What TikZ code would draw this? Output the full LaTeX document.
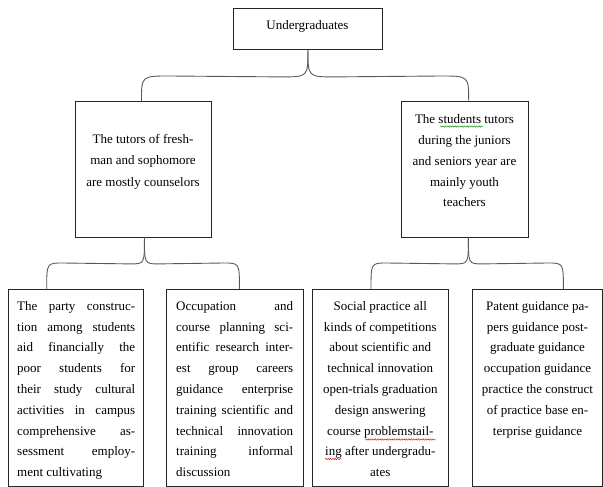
\documentclass[tikz,border=0pt]{standalone}
\usepackage{fontspec}
\setmainfont{Liberation Serif}
\usetikzlibrary{calc,decorations.pathmorphing}
\newcommand{\JLine}[1]{\makebox[\linewidth][s]{\strut #1}\par}
\newcommand{\LLine}[1]{\makebox[\linewidth][l]{\strut #1}\par}
\newcommand{\CLine}[1]{\makebox[\linewidth][c]{\strut #1}\par}
\begin{document}
\begin{tikzpicture}[x=1pt,y=-1pt,
  box/.style={draw=black!85, line width=0.9pt, inner sep=0pt, anchor=north west},
  brace/.style={draw=black!65, line width=0.9pt},
  txt/.style={inner sep=0pt, anchor=north, font=\fontsize{13}{20.8}\selectfont},
  squig/.style={line width=0.4pt, decorate, decoration={snake, amplitude=0.7pt, segment length=2.4pt}}]
\useasboundingbox (0,0) rectangle (603,487);

% boxes
\node[box, minimum width=148.4pt, minimum height=41pt] (top) at (233.3,8.3) {};
\node[box, minimum width=136pt, minimum height=135pt] (lm) at (75,101.5) {};
\node[box, minimum width=126.5pt, minimum height=135pt] (rm) at (401,101.5) {};
\node[box, minimum width=135.5pt, minimum height=197pt] (b1) at (7.7,289) {};
\node[box, minimum width=137pt, minimum height=197pt] (b2) at (166,289) {};
\node[box, minimum width=136pt, minimum height=197pt] (b3) at (312,289) {};
\node[box, minimum width=130.5pt, minimum height=197pt] (b4) at (471.7,289) {};

% texts
\node[inner sep=0pt, anchor=base, font=\fontsize{13}{20.8}\selectfont] (toptext) at (307.5,29.5) {Undergraduates};

\node[txt, font=\fontsize{13}{21.5}\selectfont] (lmtext) at (143,128.2) {\parbox[t]{124pt}{%
\CLine{The tutors of fresh-}
\CLine{man and sophomore}
\CLine{are mostly counselors}}};

\node[txt] (rmtext) at (464.5,109) {\parbox[t]{116pt}{%
\CLine{The students tutors}
\CLine{during the juniors}
\CLine{and seniors year are}
\CLine{mainly youth}
\CLine{teachers}}};

\node[txt, anchor=north west] (b1text) at (17,295.5) {\parbox[t]{118pt}{%
\JLine{The party construc-}
\JLine{tion among students}
\JLine{aid financially the}
\JLine{poor students for}
\JLine{their study cultural}
\JLine{activities in campus}
\JLine{comprehensive as-}
\JLine{sessment employ-}
\LLine{ment cultivating}}};

\node[txt, anchor=north west] (b2text) at (176,295.5) {\parbox[t]{117pt}{%
\JLine{Occupation and}
\JLine{course planning sci-}
\JLine{entific research inter-}
\JLine{est group careers}
\JLine{guidance enterprise}
\JLine{training scientific and}
\JLine{technical innovation}
\JLine{training informal}
\LLine{discussion}}};

\node[txt] (b3text) at (380.3,295.5) {\parbox[t]{124pt}{%
\CLine{Social practice all}
\CLine{kinds of competitions}
\CLine{about scientific and}
\CLine{technical innovation}
\CLine{open-trials graduation}
\CLine{design answering}
\CLine{course problemstail-}
\CLine{ing after undergradu-}
\CLine{ates}}};

\node[txt] (b4text) at (537.5,295.5) {\parbox[t]{124pt}{%
\CLine{Patent guidance pa-}
\CLine{pers guidance post-}
\CLine{graduate guidance}
\CLine{occupation guidance}
\CLine{practice the construct}
\CLine{of practice base en-}
\CLine{terprise guidance}}};

% spell-check underlines
\draw[squig, draw=green!55!black] (440,126.5) -- (483,126.5);
\draw[squig, draw=red!80!black] (365,439.5) -- (436,439.5);
\draw[squig, draw=red!80!black] (325,459) -- (342,459);

% brace anchor points
\coordinate (tl) at ([xshift=-2pt]lm.north);
\coordinate (tr) at ([xshift=4pt]rm.north);
\coordinate (la) at ([xshift=1pt]lm.south);
\coordinate (e1) at ([xshift=39pt]b1.north west);
\coordinate (e2) at ([xshift=4.5pt]b2.north);
\coordinate (ra) at ([xshift=3.7pt]rm.south);
\coordinate (e3) at ([xshift=59pt]b3.north west);
\coordinate (e4) at ([xshift=-39.7pt]b4.north east);

% top brace
\draw[brace] (top.south) .. controls ($(top.south)+(0,26.7)$) .. ($(top.south)+(-27,26.7)$)
  -- ($(tl)+(28,-25.5)$) .. controls ($(tl)+(0,-25.5)$) .. (tl);
\draw[brace] (top.south) .. controls ($(top.south)+(0,26.7)$) .. ($(top.south)+(27,26.7)$)
  -- ($(tr)+(-28,-25.5)$) .. controls ($(tr)+(0,-25.5)$) .. (tr);

% lower left brace
\draw[brace] (la) .. controls ($(la)+(0,26.5)$) .. ($(la)+(-14,26.5)$)
  -- ($(e1)+(16,-26)$) .. controls ($(e1)+(0,-26)$) .. (e1);
\draw[brace] (la) .. controls ($(la)+(0,26.5)$) .. ($(la)+(14,26.5)$)
  -- ($(e2)+(-16,-26)$) .. controls ($(e2)+(0,-26)$) .. (e2);

% lower right brace
\draw[brace] (ra) .. controls ($(ra)+(0,26.5)$) .. ($(ra)+(-14,26.5)$)
  -- ($(e3)+(16,-26)$) .. controls ($(e3)+(0,-26)$) .. (e3);
\draw[brace] (ra) .. controls ($(ra)+(0,26.5)$) .. ($(ra)+(14,26.5)$)
  -- ($(e4)+(-16,-26)$) .. controls ($(e4)+(0,-26)$) .. (e4);
\end{tikzpicture}
\end{document}
